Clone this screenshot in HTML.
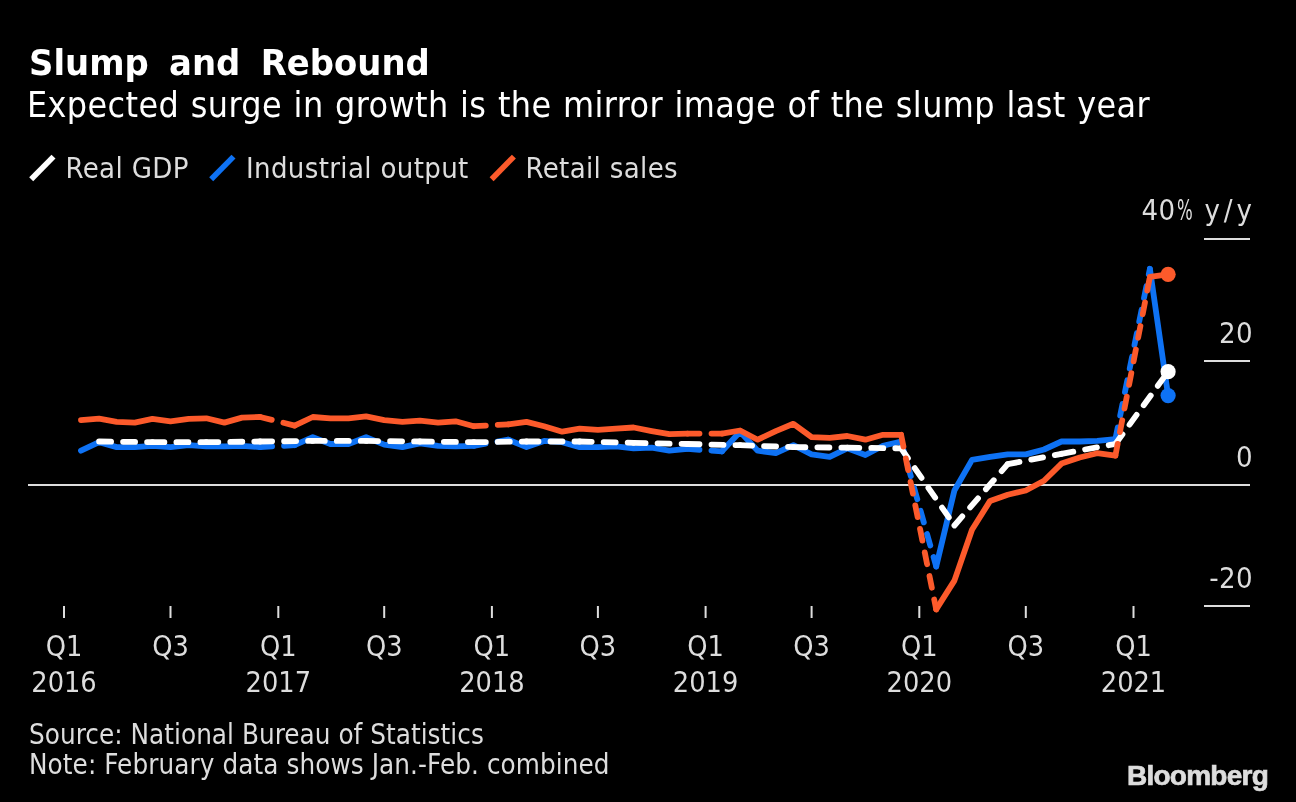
<!DOCTYPE html>
<html><head><meta charset="utf-8"><title>Slump and Rebound</title>
<style>
html,body{margin:0;padding:0;background:#000;}
body{width:1296px;height:802px;overflow:hidden;}
svg{display:block;font-family:"DejaVu Sans Condensed","DejaVu Sans","Liberation Sans",sans-serif;}
.t{font-family:"DejaVu Sans","Liberation Sans",sans-serif;font-weight:bold;font-size:36px;fill:#fff;word-spacing:9px;}
.s{font-size:35.5px;fill:#fff;letter-spacing:0.4px;word-spacing:1px;}
.lg{font-size:29px;fill:#ddd;letter-spacing:0.35px;}
.ax{font-size:29px;fill:#ddd;letter-spacing:0.4px;}
.ft{font-size:27.5px;fill:#ddd;letter-spacing:0.15px;}
.bb{font-family:"Liberation Sans",sans-serif;font-weight:bold;font-size:28px;fill:#ddd;stroke:#ddd;stroke-width:0.7px;letter-spacing:-0.75px;}
</style></head><body>
<svg width="1296" height="802" viewBox="0 0 1296 802">
<rect width="1296" height="802" fill="#000"/>
<text class="t" transform="translate(29,74.5) scale(0.942,1)">Slump and Rebound</text>
<text class="s" x="27" y="116.5">Expected surge in growth is the mirror image of the slump last year</text>
<g stroke-width="5.6">
<line x1="31.2" y1="179.3" x2="53.5" y2="156.6" stroke="#fff"/>
<line x1="211.2" y1="179.3" x2="233.5" y2="156.6" stroke="#0e72f4"/>
<line x1="491.6" y1="179.3" x2="513.9" y2="156.6" stroke="#fc5a2b"/>
</g>
<text class="lg" x="65.5" y="177.5">Real GDP</text>
<text class="lg" x="246" y="177.5">Industrial output</text>
<text class="lg" x="525.5" y="177.5">Retail sales</text>
<g fill="#ddd">
<rect x="1204" y="238" width="46" height="2"/>
<rect x="1204" y="360" width="46" height="2"/>
<rect x="28" y="484" width="1222" height="2"/>
<rect x="1204" y="605" width="46" height="2"/>
<rect x="63.0" y="606" width="2" height="12"/>
<rect x="169.5" y="606" width="2" height="12"/>
<rect x="277.3" y="606" width="2" height="12"/>
<rect x="383.2" y="606" width="2" height="12"/>
<rect x="490.9" y="606" width="2" height="12"/>
<rect x="596.9" y="606" width="2" height="12"/>
<rect x="704.6" y="606" width="2" height="12"/>
<rect x="810.6" y="606" width="2" height="12"/>
<rect x="918.3" y="606" width="2" height="12"/>
<rect x="1024.8" y="606" width="2" height="12"/>
<rect x="1132.5" y="606" width="2" height="12"/>
</g>
<g class="ax" text-anchor="end">
<text x="1253" y="220" text-anchor="start"><tspan x="1141.5">40</tspan><tspan x="1177" textLength="16" lengthAdjust="spacingAndGlyphs">%</tspan><tspan> </tspan><tspan x="1204.5" style="letter-spacing:3.9px">y/y</tspan></text>
<text x="1253" y="343">20</text>
<text x="1253" y="466.5">0</text>
<text x="1253" y="588">-20</text>
</g>
<g class="ax" text-anchor="middle" style="letter-spacing:0;font-size:28.6px">
<text x="64.0" y="655.6">Q1</text>
<text x="64.0" y="691.6">2016</text>
<text x="170.5" y="655.6">Q3</text>
<text x="278.3" y="655.6">Q1</text>
<text x="278.3" y="691.6">2017</text>
<text x="384.2" y="655.6">Q3</text>
<text x="491.9" y="655.6">Q1</text>
<text x="491.9" y="691.6">2018</text>
<text x="597.9" y="655.6">Q3</text>
<text x="705.6" y="655.6">Q1</text>
<text x="705.6" y="691.6">2019</text>
<text x="811.6" y="655.6">Q3</text>
<text x="919.3" y="655.6">Q1</text>
<text x="919.3" y="691.6">2020</text>
<text x="1025.8" y="655.6">Q3</text>
<text x="1133.5" y="655.6">Q1</text>
<text x="1133.5" y="691.6">2021</text>
</g>
<g fill="none" stroke-width="5.8" stroke-linecap="round" stroke-linejoin="round">
<polyline points="81.0,450.7 99.1,442.2 116.7,447.1 134.8,447.1 152.4,445.8 170.5,447.1 188.7,445.2 206.3,446.4 224.4,446.4 242.0,445.8 260.1,447.1" stroke="#0e72f4"/>
<line x1="260.1" y1="447.1" x2="294.6" y2="445.2" stroke="#0e72f4" stroke-dasharray="12 12"/>
<polyline points="294.6,445.2 312.8,437.2 330.4,444.0 348.5,444.0 366.1,437.2 384.2,444.6 402.4,447.1 419.9,443.4 438.1,445.8 455.6,446.4 473.8,445.8" stroke="#0e72f4"/>
<line x1="473.8" y1="445.8" x2="508.3" y2="439.7" stroke="#0e72f4" stroke-dasharray="12 12"/>
<polyline points="508.3,439.7 526.5,447.1 544.0,440.9 562.2,442.2 579.7,447.1 597.9,447.1 616.0,446.4 633.6,448.3 651.7,447.7 669.3,450.7 687.5,448.9" stroke="#0e72f4"/>
<line x1="687.5" y1="448.9" x2="722.0" y2="451.3" stroke="#0e72f4" stroke-dasharray="12 12"/>
<polyline points="722.0,451.3 740.1,431.7 757.7,450.7 775.8,453.2 793.4,445.2 811.6,454.4 829.7,456.9 847.3,448.3 865.4,455.0 883.0,445.8 901.1,441.5" stroke="#0e72f4"/>
<line x1="901.1" y1="441.5" x2="936.2" y2="566.5" stroke="#0e72f4" stroke-dasharray="12 12"/>
<polyline points="936.2,566.5 954.4,490.5 972.0,459.9 990.1,456.9 1007.7,454.4 1025.8,454.4 1044.0,449.5 1061.5,441.5 1079.7,441.5 1097.2,440.9 1115.4,439.1" stroke="#0e72f4"/>
<line x1="1115.4" y1="439.1" x2="1149.9" y2="268.8" stroke="#0e72f4" stroke-dasharray="12 12"/>
<polyline points="1149.9,268.8 1168.1,395.6" stroke="#0e72f4"/>
<circle cx="1168.1" cy="395.6" r="7.6" fill="#0e72f4" stroke="none"/>
<line x1="99.1" y1="441.5" x2="152.4" y2="442.2" stroke="#fff" stroke-dasharray="12 12"/>
<line x1="152.4" y1="442.2" x2="206.3" y2="442.2" stroke="#fff" stroke-dasharray="12 12"/>
<line x1="206.3" y1="442.2" x2="260.1" y2="441.5" stroke="#fff" stroke-dasharray="12 12"/>
<line x1="260.1" y1="441.5" x2="312.8" y2="440.9" stroke="#fff" stroke-dasharray="12 12"/>
<line x1="312.8" y1="440.9" x2="366.1" y2="440.9" stroke="#fff" stroke-dasharray="12 12"/>
<line x1="366.1" y1="440.9" x2="419.9" y2="441.5" stroke="#fff" stroke-dasharray="12 12"/>
<line x1="419.9" y1="441.5" x2="473.8" y2="442.2" stroke="#fff" stroke-dasharray="12 12"/>
<line x1="473.8" y1="442.2" x2="526.5" y2="441.5" stroke="#fff" stroke-dasharray="12 12"/>
<line x1="526.5" y1="441.5" x2="579.7" y2="441.5" stroke="#fff" stroke-dasharray="12 12"/>
<line x1="579.7" y1="441.5" x2="633.6" y2="442.8" stroke="#fff" stroke-dasharray="12 12"/>
<line x1="633.6" y1="442.8" x2="687.5" y2="444.0" stroke="#fff" stroke-dasharray="12 12"/>
<line x1="687.5" y1="444.0" x2="740.1" y2="445.2" stroke="#fff" stroke-dasharray="12 12"/>
<line x1="740.1" y1="445.2" x2="793.4" y2="447.1" stroke="#fff" stroke-dasharray="12 12"/>
<line x1="793.4" y1="447.1" x2="847.3" y2="447.7" stroke="#fff" stroke-dasharray="12 12"/>
<line x1="847.3" y1="447.7" x2="901.1" y2="448.3" stroke="#fff" stroke-dasharray="12 12"/>
<line x1="901.1" y1="448.3" x2="954.4" y2="525.5" stroke="#fff" stroke-dasharray="12 12"/>
<line x1="954.4" y1="525.5" x2="1007.7" y2="464.2" stroke="#fff" stroke-dasharray="12 12"/>
<line x1="1007.7" y1="464.2" x2="1061.5" y2="453.8" stroke="#fff" stroke-dasharray="12 12"/>
<line x1="1061.5" y1="453.8" x2="1115.4" y2="444.0" stroke="#fff" stroke-dasharray="12 12"/>
<line x1="1115.4" y1="444.0" x2="1168.1" y2="371.7" stroke="#fff" stroke-dasharray="12 12"/>
<circle cx="1168.1" cy="371.7" r="7.6" fill="#fff" stroke="none"/>
<polyline points="81.0,420.1 99.1,418.6 116.7,421.9 134.8,422.6 152.4,418.9 170.5,421.3 188.7,418.9 206.3,418.3 224.4,422.6 242.0,417.6 260.1,417.0" stroke="#fc5a2b"/>
<line x1="260.1" y1="417.0" x2="294.6" y2="425.6" stroke="#fc5a2b" stroke-dasharray="12 12"/>
<polyline points="294.6,425.6 312.8,417.0 330.4,418.3 348.5,418.3 366.1,416.4 384.2,420.1 402.4,421.9 419.9,420.7 438.1,422.6 455.6,421.3 473.8,426.2" stroke="#fc5a2b"/>
<line x1="473.8" y1="426.2" x2="508.3" y2="424.4" stroke="#fc5a2b" stroke-dasharray="12 12"/>
<polyline points="508.3,424.4 526.5,421.9 544.0,426.2 562.2,431.7 579.7,428.7 597.9,429.9 616.0,428.7 633.6,427.5 651.7,431.1 669.3,434.2 687.5,433.6" stroke="#fc5a2b"/>
<line x1="687.5" y1="433.6" x2="722.0" y2="433.6" stroke="#fc5a2b" stroke-dasharray="12 12"/>
<polyline points="722.0,433.6 740.1,430.5 757.7,439.7 775.8,431.1 793.4,423.8 811.6,437.2 829.7,437.9 847.3,436.0 865.4,439.7 883.0,434.8 901.1,434.8" stroke="#fc5a2b"/>
<line x1="901.1" y1="434.8" x2="936.2" y2="609.4" stroke="#fc5a2b" stroke-dasharray="12 12"/>
<polyline points="936.2,609.4 954.4,580.6 972.0,529.7 990.1,500.9 1007.7,494.8 1025.8,490.5 1044.0,480.7 1061.5,463.6 1079.7,457.5 1097.2,453.2 1115.4,455.6" stroke="#fc5a2b"/>
<line x1="1115.4" y1="455.6" x2="1149.9" y2="276.8" stroke="#fc5a2b" stroke-dasharray="12 12"/>
<polyline points="1149.9,276.8 1168.1,274.3" stroke="#fc5a2b"/>
<circle cx="1168.1" cy="274.3" r="7.6" fill="#fc5a2b" stroke="none"/>
</g>
<text class="ft" x="29" y="743.6" style="letter-spacing:0.05px">Source: National Bureau of Statistics</text>
<text class="ft" x="29" y="773.6" style="letter-spacing:0.09px">Note: February data shows Jan.-Feb. combined</text>
<text class="bb" x="1127" y="784.6">Bloomberg</text>
</svg>
</body></html>
